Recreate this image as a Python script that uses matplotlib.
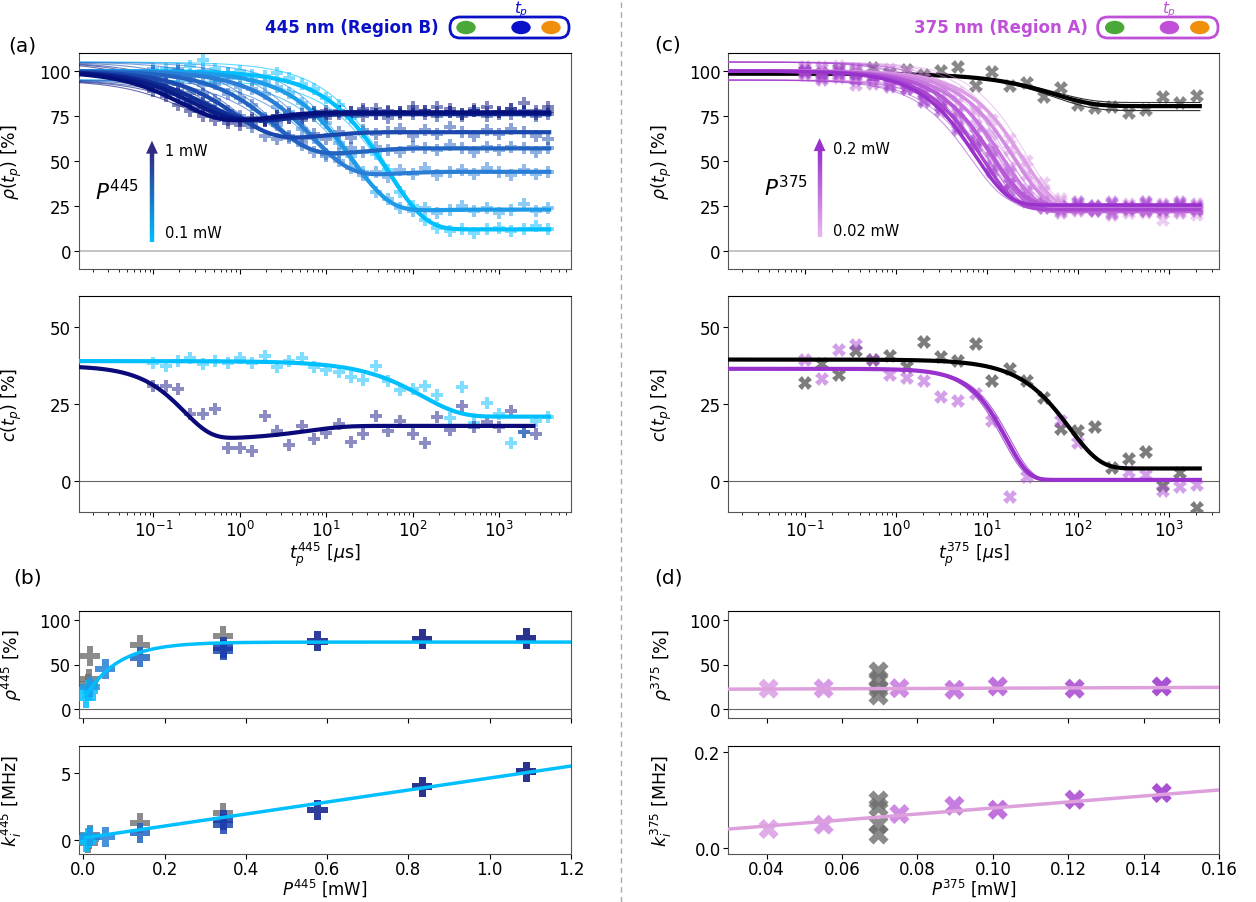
import numpy as np
import matplotlib.pyplot as plt
from matplotlib.collections import LineCollection
from matplotlib.patches import FancyBboxPatch, Ellipse, Polygon
from matplotlib.lines import Line2D
from matplotlib.colors import to_rgb

plt.rcParams['font.family'] = ['DejaVu Sans']
plt.rcParams['mathtext.fontset'] = 'dejavusans'
plt.rcParams['font.size'] = 11

# ---------------- 445 nm (region B) : rho(t_p) ----------------
t_445 = [0.1, 0.139, 0.193, 0.268, 0.373, 0.518, 0.72, 1.0, 1.39, 1.93, 2.68, 3.73,
         5.18, 7.2, 10, 13.9, 19.3, 26.8, 37.3, 51.8, 72, 100, 139, 193, 268, 373,
         518, 720, 1000, 1390, 1930, 2680, 3730]
rho445_s1 = [100, 101, 99, 103, 106, 101, 99, 100, 98, 97, 99, 96, 93, 90, 85, 81, 74,
             66, 54, 45, 33, 25, 17, 13, 11, 12, 10, 12, 13, 11, 12, 14, 12]
rho445_s2 = [101, 99, 100, 98, 100, 97, 99, 96, 95, 94, 91, 88, 82, 77, 71, 60, 53,
             44, 33, 29, 24, 22, 24, 21, 23, 25, 22, 24, 21, 23, 26, 22, 24]
rho445_s3 = [100, 98, 101, 97, 99, 95, 96, 91, 90, 87, 80, 77, 68, 63, 54, 50, 46,
             42, 44, 41, 45, 43, 46, 42, 44, 45, 43, 46, 44, 42, 45, 43, 44]
rho445_s4 = [99, 97, 100, 96, 92, 93, 87, 85, 81, 74, 70, 63, 59, 55, 53, 54, 57,
             55, 58, 56, 55, 58, 57, 56, 59, 57, 55, 58, 56, 58, 57, 55, 57]
rho445_s5 = [96, 94, 93, 88, 87, 84, 78, 75, 69, 64, 62, 64, 61, 65, 62, 66, 63,
             67, 65, 66, 68, 64, 67, 65, 69, 66, 64, 67, 65, 68, 66, 64, 62]
rho445_s6 = [94, 90, 89, 84, 82, 78, 75, 73, 71, 73, 72, 74, 73, 76, 74, 77, 75,
             78, 76, 74, 77, 76, 78, 75, 77, 76, 79, 75, 77, 76, 78, 75, 76]
rho445_s7 = [92, 88, 87, 82, 80, 76, 73, 72, 74, 72, 75, 74, 76, 75, 78, 76, 77,
             75, 79, 77, 76, 78, 76, 80, 77, 75, 78, 77, 76, 79, 77, 76, 78]
rho445_s8 = [89, 86, 81, 78, 75, 73, 71, 70, 73, 72, 75, 76, 74, 77, 76, 78, 77,
             79, 76, 78, 77, 80, 78, 77, 79, 76, 78, 80, 77, 79, 82, 78, 80]
# fit parameters
plateau_445 = [12, 23, 44, 57, 66, 76, 76.5, 77]
tau_445 = [52, 20, 7, 2.5, 0.9, 0.4, 0.3, 0.22]
dip_445 = [0, 1, 3, 5, 5, 6, 6, 7]
tau2_445 = [1, 150, 60, 25, 10, 4, 3, 2.5]
colors_445 = ['#00bfff', '#1e9be8', '#2a7ed6', '#2264c2', '#1a48ae', '#102e96', '#0a1c88', '#05107c']

# 445 nm : c(t_p)
c445_light = [38.5, 37.5, 39, 40, 38, 39, 38.5, 40, 38.5, 40.5, 37, 39, 40, 37, 36, 35.5, 34,
              33, 37.5, 32.5, 29.5, 30, 31, 28, 20.5, 30.5, 19, 25.5, 22, 12.5, 16, 19.5, 21]
c445_dark = [30.9, 30.9, 29.8, 21.8, 21.8, 23.4, 11, 11, 9.9, 21.2, 16.4, 11.8, 18, 13.7, 15.8,
             18.5, 12.8, 15.3, 21.2, 16.4, 19.6, 15.3, 12.4, 21, 16.7, 24.4, 17.5, 19.4, 17.5,
             22.8, 16.1, 15.3]

# 445 nm : (b) vs power
P445 = [0.006, 0.012, 0.016, 0.054, 0.139, 0.344, 0.344, 0.576, 0.834, 1.09]
rho445_P = [13, 21, 25, 45, 58, 66, 69, 76, 78, 79]
k445_P = [-0.1, 0.15, 0.3, 0.25, 0.55, 1.2, 1.5, 2.25, 4.0, 5.1]
colors_445_P = ['#00bfff', '#00bfff', '#1e9be8', '#2a7ed6', '#2264c2', '#1a48ae', '#1a3aa8',
                '#0a1c88', '#05107c', '#05107c']
P445_gray = [0.010, 0.013, 0.015, 0.139, 0.344]
rho445_gray = [28, 34, 60, 72, 82]
k445_gray = [-0.2, 0.1, 0.4, 1.3, 2.0]
k445_line_P = [0.005, 1.2]
k445_line = [0.19, 5.53]

# ---------------- 375 nm (region A) ----------------
t_375 = [0.1, 0.154, 0.237, 0.365, 0.562, 0.866, 1.33, 2.05, 3.16, 4.87, 7.5, 11.5, 17.8,
         27.4, 42.2, 65, 100, 154, 237, 365, 562, 866, 1334, 2054]
rho375_p1 = [101, 97, 103, 100, 95, 101, 99, 96, 91, 88, 79, 73, 62, 50, 38, 29, 25, 22, 24, 26, 21, 17, 23, 20]
rho375_p2 = [99, 102, 96, 100, 97, 94, 96, 92, 90, 82, 77, 65, 56, 42, 33, 27, 22, 25, 23, 21, 24, 26, 22, 24]
rho375_p3 = [100, 96, 101, 98, 99, 94, 93, 88, 85, 76, 70, 56, 46, 34, 26, 24, 25, 22, 24, 23, 25, 21, 24, 26]
rho375_p4 = [98, 101, 97, 92, 97, 95, 90, 88, 80, 74, 61, 51, 37, 29, 24, 21, 23, 22, 20, 23, 22, 24, 21, 23]
rho375_p5 = [102, 99, 98, 101, 93, 96, 92, 90, 82, 77, 65, 56, 44, 33, 27, 25, 26, 24, 27, 25, 26, 23, 27, 25]
rho375_p6 = [99, 95, 100, 97, 96, 91, 92, 84, 80, 69, 60, 46, 37, 27, 24, 22, 24, 23, 21, 24, 22, 23, 25, 22]
rho375_p7 = [100, 97, 99, 95, 96, 92, 90, 83, 78, 67, 58, 44, 34, 29, 26, 24, 27, 25, 26, 24, 27, 25, 26, 24]
rho375_gray = [100, 99, 101, 99, 101.6, 99, 100.5, 98, 100, 102.4, 91.8, 99.2, 91.8, 93.5, 85.7,
               90.3, 81, 79.2, 80.1, 76.8, 78.6, 85.7, 82, 86.3]
plateau_375 = [23, 23.3, 23.5, 21.9, 25.5, 23, 25.5]
tau_375 = [25, 20, 15, 12, 11.5, 9, 7.5]
colors_375 = ['#dc9ce6', '#d28ae2', '#c878de', '#be66da', '#b458d6', '#a846d0', '#9932cc']

c375_gray = [32.0, 37.9, 34.5, 42.2, 39.2, 40.8, 37.2, 45.3, 40.4, 39.0, 44.4, 32.5, 36.3,
             32.5, 27.2, 16.9, 16.4, 17.8, 4.2, 7.2, 9.4, -1.6, 2.6, -8.7]
c375_purple = [39.2, 33.1, 42.6, 44.2, 39.2, 34.5, 33.4, 32.5, 27.4, 26.1, 28.2, 19.6, -5.0,
               1.6, np.nan, 19.6, 12.6, np.nan, np.nan, 3.1, 2.0, -3.0, -1.9, -1.1]

P375 = [0.0405, 0.0551, 0.0752, 0.0898, 0.1013, 0.1217, 0.1448]
rho375_P = [23, 23.3, 23.5, 21.9, 25.5, 23, 25.5]
k375_P = [0.040, 0.049, 0.071, 0.088, 0.080, 0.1006, 0.1145]
P375_gray = [0.0695, 0.0695, 0.0695, 0.0695]
rho375_P_gray = [43, 34, 24, 16]
k375_P_gray = [0.100, 0.085, 0.05, 0.03]
P375_line = [0.03, 0.16]
rho375_line = [22.5, 24.5]
k375_line = [0.040, 0.1207]


def fit_curve(t, start, end, tau, beta=1.0, dip=0.0, tau2=1.0):
    main = np.exp(-(t / tau) ** beta)
    return end + (start - end) * main - dip * (np.exp(-t / tau2) - main)


def grad_arrow(ax, x, y0, y1, c0, c1, head_h=0.06, head_w=0.012):
    n = 80
    ys = np.linspace(y0, y1 - head_h + 0.005, n + 1)
    a, b = np.array(to_rgb(c0)), np.array(to_rgb(c1))
    segs = [[(x, ys[i]), (x, ys[i + 1])] for i in range(n)]
    cols = [a + (b - a) * i / (n - 1) for i in range(n)]
    ax.add_collection(LineCollection(segs, colors=cols, linewidths=3.2,
                                     transform=ax.transAxes), autolim=False)
    ax.add_patch(Polygon([(x - head_w, y1 - head_h), (x + head_w, y1 - head_h), (x, y1)],
                         closed=True, color=c1, transform=ax.transAxes, lw=0))


W, H = 1256, 903
fig = plt.figure(figsize=(12.56, 9.03), dpi=100)


def add_ax(x0, y0, x1, y1):
    return fig.add_axes([x0 / W, 1 - y1 / H, (x1 - x0) / W, (y1 - y0) / H])


ax_a = add_ax(78.6, 54, 571, 270)
ax_ac = add_ax(78.6, 297.3, 571, 513.3)
ax_b1 = add_ax(78.6, 611.7, 571, 719.3)
ax_b2 = add_ax(78.6, 747.3, 571, 854.7)
ax_c = add_ax(728.3, 54, 1219, 270)
ax_cc = add_ax(728.3, 297.3, 1219, 513.3)
ax_d1 = add_ax(728.3, 611.7, 1219, 719.3)
ax_d2 = add_ax(728.3, 747.3, 1219, 854.7)

for ax in [ax_a, ax_ac, ax_b1, ax_b2, ax_c, ax_cc, ax_d1, ax_d2]:
    ax.tick_params(labelsize=12, pad=2)
    for sp in ax.spines.values():
        sp.set_color('#555555')
    ax.spines['top'].set_color('black')
    ax.yaxis.set_label_coords(-0.11, 0.5)

# ---- (a) top: rho(t_p) 445 ----
t_line = np.geomspace(0.0136, 3800, 600)
rho445_all = [rho445_s1, rho445_s2, rho445_s3, rho445_s4, rho445_s5, rho445_s6, rho445_s7, rho445_s8]
ax_a.axhline(0, color='#bbbbbb', lw=1.2, zorder=1)
for i, pts in enumerate(rho445_all):
    ax_a.plot(t_445, pts, 'P', ms=9, mew=0, color=colors_445[i], alpha=0.5, zorder=2)
for i in range(8):
    for a0 in [95, 105]:
        ax_a.plot(t_line, fit_curve(t_line, a0, plateau_445[i], tau_445[i], 1.0, dip_445[i], tau2_445[i]),
                  color=colors_445[i], lw=0.8, alpha=0.6, zorder=3)
    ax_a.plot(t_line, fit_curve(t_line, 100, plateau_445[i], tau_445[i], 1.0, dip_445[i], tau2_445[i]),
              color=colors_445[i], lw=3, zorder=4)
ax_a.set_xscale('log')
ax_a.set_xlim(0.0136, 6800)
ax_a.set_ylim(-10, 110)
ax_a.set_yticks([0, 25, 50, 75, 100])
ax_a.tick_params(labelbottom=False)
ax_a.set_ylabel(r'$\rho(t_p)$ [%]', fontsize=12.5)
grad_arrow(ax_a, 0.149, 0.126, 0.594, '#00bfff', '#302a82')
ax_a.text(0.175, 0.548, '1 mW', transform=ax_a.transAxes, va='center', fontsize=10.5)
ax_a.text(0.175, 0.170, '0.1 mW', transform=ax_a.transAxes, va='center', fontsize=10.5)
ax_a.text(0.033, 0.3625, r'$P^{445}$', transform=ax_a.transAxes, va='center', fontsize=15.5)

# ---- (a) bottom: c(t_p) 445 ----
ax_ac.axhline(0, color='#666666', lw=0.8, zorder=1)
ax_ac.plot(t_445, c445_light, 'P', ms=9, mew=0, color='#00bfff', alpha=0.5, zorder=2)
ax_ac.plot(t_445[:32], c445_dark, 'P', ms=9, mew=0, color='#1a1a8c', alpha=0.5, zorder=2)
t_c1 = np.geomspace(0.0136, 3800, 600)
t_c2 = np.geomspace(0.0136, 2500, 600)
ax_ac.plot(t_c1, fit_curve(t_c1, 39, 21, 130), color='#00bfff', lw=3, zorder=3)
ax_ac.plot(t_c2, fit_curve(t_c2, 37.5, 18, 0.23, 1.4, 4.5, 6), color='#0a0a7a', lw=3, zorder=3)
ax_ac.set_xscale('log')
ax_ac.set_xlim(0.0136, 6800)
ax_ac.set_ylim(-10, 60)
ax_ac.set_yticks([0, 25, 50])
ax_ac.set_ylabel(r'$c(t_p)$ [%]', fontsize=12.5)
ax_ac.set_xlabel(r'$t_p^{445}$ [$\mu$s]', fontsize=12.5)
ax_ac.xaxis.set_label_coords(0.5, -0.125)

# ---- (b) rho vs P 445 ----
P_line = np.linspace(0.005, 1.2, 300)
ax_b1.axhline(0, color='#666666', lw=0.8, zorder=1)
ax_b1.scatter(P445_gray, rho445_gray, marker='P', s=210, color='#6e6e6e', alpha=0.8, lw=0, zorder=2)
ax_b1.scatter(P445, rho445_P, marker='P', s=210, c=colors_445_P, alpha=0.85, lw=0, zorder=3)
ax_b1.plot(P_line, 75 - 65 * np.exp(-P_line / 0.08), color='#00bfff', lw=2.5, zorder=4)
ax_b1.set_xlim(-0.012, 1.2)
ax_b1.set_ylim(-10, 110)
ax_b1.set_yticks([0, 50, 100])
ax_b1.set_xticks([0, 0.2, 0.4, 0.6, 0.8, 1.0, 1.2])
ax_b1.tick_params(labelbottom=False)
ax_b1.set_ylabel(r'$\rho^{445}$ [%]', fontsize=12.5)

ax_b2.scatter(P445_gray, k445_gray, marker='P', s=210, color='#6e6e6e', alpha=0.8, lw=0, zorder=2)
ax_b2.scatter(P445, k445_P, marker='P', s=210, c=colors_445_P, alpha=0.85, lw=0, zorder=3)
ax_b2.plot(k445_line_P, k445_line, color='#00bfff', lw=2.5, zorder=4)
ax_b2.set_xlim(-0.012, 1.2)
ax_b2.set_ylim(-1, 7)
ax_b2.set_yticks([0, 5])
ax_b2.set_xticks([0, 0.2, 0.4, 0.6, 0.8, 1.0, 1.2])
ax_b2.set_xticklabels(['0.0', '0.2', '0.4', '0.6', '0.8', '1.0', '1.2'])
ax_b2.tick_params(axis='x', pad=1)
ax_b2.set_ylabel(r'$k_i^{445}$ [MHz]', fontsize=12.5)
ax_b2.set_xlabel(r'$P^{445}$ [mW]', fontsize=12)
ax_b2.xaxis.set_label_coords(0.5, -0.215)

# ---- (c) top: rho(t_p) 375 ----
t_line_r = np.geomspace(0.0143, 2200, 600)
rho375_all = [rho375_p1, rho375_p2, rho375_p3, rho375_p4, rho375_p5, rho375_p6, rho375_p7]
ax_c.axhline(0, color='#bbbbbb', lw=1.2, zorder=1)
ax_c.plot(t_375, rho375_gray, 'X', ms=10, mew=0, color='#555555', alpha=0.7, zorder=2)
for end in [78, 82.5]:
    ax_c.plot(t_line_r, fit_curve(t_line_r, 98.5, end, 55), color='#333333', lw=0.8, zorder=2)
ax_c.plot(t_line_r, fit_curve(t_line_r, 98.5, 80.5, 55), color='black', lw=3, zorder=3)
for i, pts in enumerate(rho375_all):
    ax_c.plot(t_375, pts, 'X', ms=10, mew=0, color=colors_375[i], alpha=0.5, zorder=4)
for i in range(7):
    for a0, f in [(95, 0.9), (105, 1.1)]:
        ax_c.plot(t_line_r, fit_curve(t_line_r, a0, plateau_375[i], tau_375[i] * f, 1.2),
                  color=colors_375[i], lw=0.8, alpha=0.5, zorder=5)
    ax_c.plot(t_line_r, fit_curve(t_line_r, 100, plateau_375[i], tau_375[i], 1.2),
              color=colors_375[i], lw=2.5, zorder=6)
ax_c.set_xscale('log')
ax_c.set_xlim(0.0143, 3580)
ax_c.set_ylim(-10, 110)
ax_c.set_yticks([0, 25, 50, 75, 100])
ax_c.tick_params(labelbottom=False)
ax_c.set_ylabel(r'$\rho(t_p)$ [%]', fontsize=12.5)
grad_arrow(ax_c, 0.186, 0.148, 0.606, '#e8b8ee', '#9932cc')
ax_c.text(0.214, 0.560, '0.2 mW', transform=ax_c.transAxes, va='center', fontsize=10.5)
ax_c.text(0.214, 0.177, '0.02 mW', transform=ax_c.transAxes, va='center', fontsize=10.5)
ax_c.text(0.072, 0.38, r'$P^{375}$', transform=ax_c.transAxes, va='center', fontsize=15.5)

# ---- (c) bottom: c(t_p) 375 ----
ax_cc.axhline(0, color='#666666', lw=0.8, zorder=1)
ax_cc.plot(t_375, c375_gray, 'X', ms=10, mew=0, color='#444444', alpha=0.7, zorder=2)
ax_cc.plot(t_375, c375_purple, 'X', ms=10, mew=0, color='#b050d8', alpha=0.55, zorder=2)
for tt in [15, 18]:
    ax_cc.plot(t_line_r, fit_curve(t_line_r, 36.5, 0.5, tt, 1.8), color='#b060d8', lw=0.8, zorder=3)
ax_cc.plot(t_line_r, fit_curve(t_line_r, 36.5, 0.5, 16.4, 1.8), color='#9932cc', lw=3, zorder=4)
ax_cc.plot(t_line_r, fit_curve(t_line_r, 39.5, 4.2, 82, 1.3), color='black', lw=3, zorder=4)
ax_cc.set_xscale('log')
ax_cc.set_xlim(0.0143, 3580)
ax_cc.set_ylim(-10, 60)
ax_cc.set_yticks([0, 25, 50])
ax_cc.set_ylabel(r'$c(t_p)$ [%]', fontsize=12.5)
ax_cc.set_xlabel(r'$t_p^{375}$ [$\mu$s]', fontsize=12.5)
ax_cc.xaxis.set_label_coords(0.5, -0.125)

# ---- (d) rho, k vs P 375 ----
ax_d1.axhline(0, color='#666666', lw=0.8, zorder=1)
ax_d1.scatter(P375_gray, rho375_P_gray, marker='X', s=210, color='#6e6e6e', alpha=0.8, lw=0, zorder=2)
ax_d1.scatter(P375, rho375_P, marker='X', s=210, c=colors_375, alpha=0.85, lw=0, zorder=3)
ax_d1.plot(P375_line, rho375_line, color='#dda0dd', lw=2.5, zorder=4)
ax_d1.set_xlim(0.0298, 0.16)
ax_d1.set_ylim(-10, 110)
ax_d1.set_yticks([0, 50, 100])
ax_d1.set_xticks([0.04, 0.06, 0.08, 0.10, 0.12, 0.14, 0.16])
ax_d1.tick_params(labelbottom=False)
ax_d1.set_ylabel(r'$\rho^{375}$ [%]', fontsize=12.5)

ax_d2.scatter(P375_gray, k375_P_gray, marker='X', s=210, color='#6e6e6e', alpha=0.8, lw=0, zorder=2)
ax_d2.scatter(P375, k375_P, marker='X', s=210, c=colors_375, alpha=0.85, lw=0, zorder=3)
ax_d2.plot(P375_line, k375_line, color='#dda0dd', lw=2.5, zorder=4)
ax_d2.set_xlim(0.0298, 0.16)
ax_d2.set_ylim(-0.011, 0.211)
ax_d2.set_yticks([0.0, 0.2])
ax_d2.set_yticklabels(['0.0', '0.2'])
ax_d2.set_xticks([0.04, 0.06, 0.08, 0.10, 0.12, 0.14, 0.16])
ax_d2.set_xticklabels(['0.04', '0.06', '0.08', '0.10', '0.12', '0.14', '0.16'])
ax_d2.tick_params(axis='x', pad=1)
ax_d2.set_ylabel(r'$k_i^{375}$ [MHz]', fontsize=12.5)
ax_d2.set_xlabel(r'$P^{375}$ [mW]', fontsize=12)
ax_d2.xaxis.set_label_coords(0.5, -0.215)

# ---- figure decorations ----
fig.add_artist(Line2D([621 / W, 621 / W], [0, 1], transform=fig.transFigure,
                      color='#aaaaaa', lw=1, ls=(0, (4, 3))))
for lab, (x, y) in zip(['(a)', '(b)', '(c)', '(d)'],
                       [(22, 46), (28, 578), (668, 45), (668, 578)]):
    fig.text(x / W, 1 - y / H, lab, ha='center', va='center', fontsize=14.5)


def header(text, color, txt_right, box_x0, box_x1, dots_x, dot_cols):
    fig.text(txt_right / W, 1 - 28 / H, text, ha='right', va='center', color=color,
             fontsize=12, fontweight='bold')
    box = FancyBboxPatch(((box_x0) / 100, (H - 39) / 100), (box_x1 - box_x0) / 100, 0.21,
                         boxstyle='round,pad=0,rounding_size=0.1', transform=fig.dpi_scale_trans,
                         fc='none', ec=color, lw=2)
    fig.add_artist(box)
    for x, c in zip(dots_x, dot_cols):
        fig.add_artist(Ellipse((x / 100, (H - 28.5) / 100), 0.18, 0.12, color=c,
                               transform=fig.dpi_scale_trans))
    fig.text(dots_x[1] / W, 1 - 10 / H, r'$t_p$', ha='center', va='center', color=color, fontsize=11)


header('445 nm (Region B)', '#0a10c8', 438.5, 450, 569, [466, 521, 551],
       ['#4aa838', '#0a10c8', '#f0900a'])
header('375 nm (Region A)', '#c050d8', 1087.6, 1097.7, 1218, [1114.7, 1169.4, 1199.8],
       ['#4aa838', '#c050d8', '#f0900a'])

fig.savefig('out.png', dpi=100)
